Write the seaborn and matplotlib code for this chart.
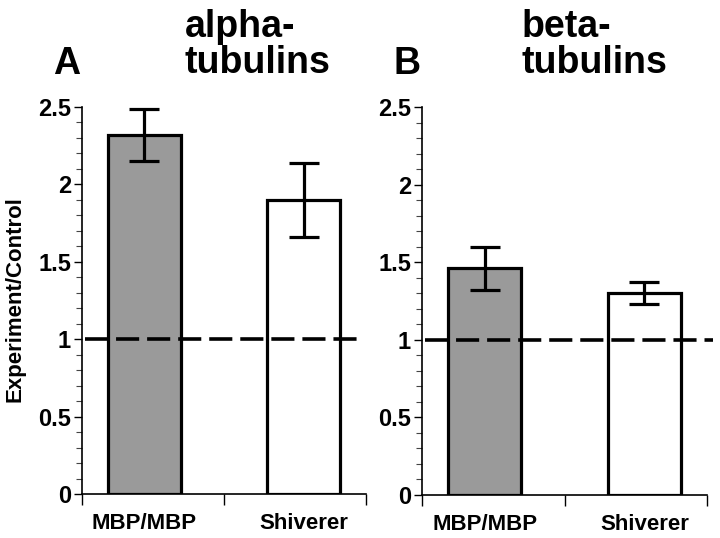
import matplotlib
matplotlib.use("Agg")
import matplotlib.pyplot as plt
import matplotlib.ticker as mticker
import seaborn as sns
import pandas as pd

categories = ["MBP/MBP", "Shiverer"]
alpha_values = [2.32, 1.90]
alpha_errors = [0.17, 0.24]
beta_values = [1.46, 1.30]
beta_errors = [0.14, 0.07]
panel_letters = ["A", "B"]
panel_titles = [["alpha-", "tubulins"], ["beta-", "tubulins"]]
y_ticks = [0, 0.5, 1, 1.5, 2, 2.5]
reference_level = 1.0

sns.set_theme(style="ticks")
plt.rcParams["font.family"] = ["Liberation Sans", "DejaVu Sans"]
plt.rcParams["font.weight"] = "bold"
for key in ["text.color", "axes.labelcolor", "xtick.color", "ytick.color",
            "axes.edgecolor"]:
    plt.rcParams[key] = "black"

fig = plt.figure(figsize=(7.2, 5.38), dpi=100)
axA = fig.add_axes([82 / 720, 1 - 494 / 538, 284 / 720, 387 / 538])
axB = fig.add_axes([422 / 720, 1 - 495 / 538, 285 / 720, 388 / 538])

panels = [
    (axA, alpha_values, alpha_errors, 0.986),
    (axB, beta_values, beta_errors, 1.02),
]

LW = 2.3
for i, (ax, vals, errs, line_end) in enumerate(panels):
    df = pd.DataFrame({"group": categories, "value": vals})
    sns.barplot(data=df, x="group", y="value", hue="group",
                palette=["#9a9a9a", "white"], edgecolor="black",
                linewidth=LW, width=0.46, errorbar=None, legend=False,
                ax=ax, zorder=2)
    centers = [p.get_x() + p.get_width() / 2 for p in ax.patches]
    ax.errorbar(centers, vals, yerr=errs, fmt="none", ecolor="black",
                elinewidth=LW, capsize=11, capthick=LW, zorder=3)
    ax.plot([0.01, line_end], [reference_level, reference_level],
            transform=ax.get_yaxis_transform(), color="black", lw=2.6,
            dashes=(6.4, 2.2), clip_on=False, zorder=4)

    ax.set_xlim(-0.393, 1.393)
    ax.set_ylim(0, 2.5)
    ax.set_xticks(centers)
    ax.set_xticklabels(categories, fontsize=16, fontweight="bold",
                       color="black")
    ax.tick_params(axis="x", which="major", length=0, pad=14)
    ax.xaxis.set_minor_locator(mticker.FixedLocator([-0.393, 0.5, 1.393]))
    ax.tick_params(axis="x", which="minor", length=8, width=1.0,
                   direction="out", color="black")
    ax.set_yticks(y_ticks)
    ax.yaxis.set_major_formatter(mticker.FuncFormatter(lambda v, p: f"{v:g}"))
    ax.yaxis.set_minor_locator(mticker.MultipleLocator(0.1))
    ax.tick_params(axis="y", which="major", length=6, width=1.0, pad=2,
                   labelsize=17, direction="out", color="black",
                   labelcolor="black")
    ax.tick_params(axis="y", which="minor", length=4, width=0.8,
                   direction="out", color="#444444")
    for lab in ax.get_yticklabels():
        lab.set_fontweight("bold")
    ax.set_xlabel("")
    ax.set_ylabel("")
    sns.despine(ax=ax)
    for s in ["left", "bottom"]:
        ax.spines[s].set_linewidth(1.2)
        ax.spines[s].set_color("black")

axA.set_ylabel("Experiment/Control", fontsize=16, fontweight="bold",
               color="black")
axA.yaxis.set_label_coords(-0.200, 0.505)

# Panel letters and titles
letter_x = [67, 407]
title_x = [185, 522]
for i in range(2):
    fig.text(letter_x[i] / 720, 1 - 74 / 538, panel_letters[i], ha="center",
             va="baseline", fontsize=27, fontweight="bold", color="black")
    fig.text(title_x[i] / 720, 1 - 37 / 538, panel_titles[i][0], ha="left",
             va="baseline", fontsize=27, fontweight="bold", color="black")
    fig.text(title_x[i] / 720, 1 - 73 / 538, panel_titles[i][1], ha="left",
             va="baseline", fontsize=27, fontweight="bold", color="black")

fig.savefig("out.png", dpi=100)
